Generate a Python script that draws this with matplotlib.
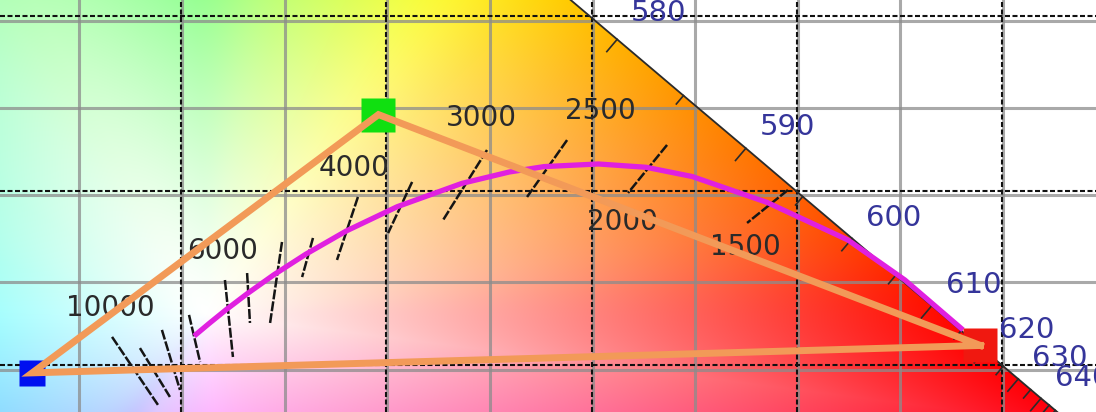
import numpy as np
import matplotlib
matplotlib.use('Agg')
import matplotlib.pyplot as plt
import matplotlib.transforms as mtransforms
from matplotlib.patches import Polygon

# CIE 1931 2° spectral locus: wavelength (nm), x, y
locus_nm = [380, 400, 420, 430, 440, 450, 460, 470, 475, 480, 485, 490, 495, 500,
            505, 510, 515, 520, 525, 530, 540, 550, 560, 565, 570, 575, 580, 585,
            590, 595, 600, 605, 610, 615, 620, 625, 630, 635, 640, 645, 650, 655,
            660, 670, 680, 700]
locus_x = [0.1741, 0.1733, 0.1714, 0.1689, 0.1644, 0.1566, 0.1440, 0.1241, 0.1096,
           0.0913, 0.0687, 0.0454, 0.0235, 0.0082, 0.0039, 0.0139, 0.0389, 0.0743,
           0.1142, 0.1547, 0.2296, 0.3016, 0.3731, 0.4087, 0.4441, 0.4788, 0.5125,
           0.5448, 0.5752, 0.6029, 0.6270, 0.6482, 0.6658, 0.6801, 0.6915, 0.7006,
           0.7079, 0.7140, 0.7190, 0.7230, 0.7260, 0.7283, 0.7300, 0.7327, 0.7334,
           0.7347]
locus_y = [0.0050, 0.0048, 0.0051, 0.0069, 0.0109, 0.0177, 0.0297, 0.0578, 0.0868,
           0.1327, 0.2007, 0.2950, 0.4127, 0.5384, 0.6548, 0.7502, 0.8120, 0.8338,
           0.8262, 0.8059, 0.7543, 0.6923, 0.6245, 0.5896, 0.5547, 0.5202, 0.4866,
           0.4544, 0.4242, 0.3965, 0.3725, 0.3514, 0.3340, 0.3197, 0.3083, 0.2993,
           0.2920, 0.2859, 0.2809, 0.2770, 0.2740, 0.2717, 0.2700, 0.2673, 0.2666,
           0.2653]

# Planckian locus (black body)
planck_T = [7000, 6500, 6000, 5500, 5000, 4500, 4000, 3500, 3000, 2700, 2500,
            2200, 2000, 1800, 1500, 1200, 1000, 850]
planck_x = [0.3064, 0.3135, 0.3221, 0.3324, 0.3451, 0.3608, 0.3805, 0.4053, 0.4369,
            0.4599, 0.4769, 0.5033, 0.5267, 0.5491, 0.5857, 0.6250, 0.6527, 0.6810]
planck_y = [0.3166, 0.3236, 0.3318, 0.3410, 0.3516, 0.3635, 0.3768, 0.3907, 0.4041,
            0.4106, 0.4137, 0.4152, 0.4133, 0.4080, 0.3931, 0.3716, 0.3487, 0.3201]

# isotemperature lines (upper / lower end)
iso_T = [10000, 9000, 8000, 7000, 6000, 5500, 5000, 4500, 4000, 3500, 3000, 2500, 2000, 1500]
iso_x_top = [0.2664, 0.2800, 0.2907, 0.3039, 0.3214, 0.3322, 0.3492, 0.3643, 0.3862,
             0.4126, 0.4491, 0.4881, 0.5368, 0.5957]
iso_y_top = [0.3161, 0.3097, 0.3201, 0.3287, 0.3487, 0.3527, 0.3705, 0.3728, 0.3963,
             0.4049, 0.4232, 0.4289, 0.4261, 0.4003]
iso_x_bot = [0.2888, 0.2946, 0.2995, 0.3093, 0.3253, 0.3336, 0.3434, 0.3590, 0.3760,
             0.4009, 0.4277, 0.4686, 0.5178, 0.5758]
iso_y_bot = [0.2771, 0.2817, 0.2857, 0.3017, 0.3046, 0.3241, 0.3241, 0.3504, 0.3602,
             0.3756, 0.3831, 0.3963, 0.3986, 0.3814]

# temperatures that carry a label: (end of the line, offset in points)
iso_labels = {10000: ('top', -1, 21), 6000: ('top', -2, 21), 4000: ('top', -3, 21),
              3000: ('top', -4, 23), 2500: ('top', 24, 21), 2000: ('bot', -4, -21),
              1500: ('bot', -1, -17)}

# gamut triangle primaries (R, G, B)
prim_x = [0.6895, 0.3962, 0.2275]
prim_y = [0.3112, 0.4435, 0.2955]
prim_colors = ['#f01810', '#10e010', '#0010f0']
prim_ms = [24, 24, 19]

wl_labels = [580, 590, 600, 610, 620, 630, 640]
white_x, white_y = 0.3127, 0.3290

x0, x1 = 0.21181, 0.74580
y0, y1 = 0.27307, 0.50917
W, H = 1096, 412

M = np.array([[3.2406, -1.5372, -0.4986],
              [-0.9689, 1.8758, 0.0415],
              [0.0557, -0.2040, 1.0570]])


def xy_to_rgb(x, y):
    X = x / y
    Z = (1 - x - y) / y
    rgb = np.stack([X, np.ones_like(X), Z], -1) @ M.T
    rgb = np.clip(rgb, 0, None)
    rgb /= rgb.max(axis=-1, keepdims=True)
    return rgb ** (1 / 2.2)


# closed horseshoe boundary, purple line sampled densely
lx = np.array(locus_x)
ly = np.array(locus_y)
t = np.linspace(0, 1, 60)[1:-1]
bx = np.concatenate([lx, lx[-1] + (lx[0] - lx[-1]) * t])
by = np.concatenate([ly, ly[-1] + (ly[0] - ly[-1]) * t])
b_ang = np.arctan2(by - white_y, bx - white_x)
b_rad = np.hypot(bx - white_x, by - white_y)
order = np.argsort(b_ang)
b_ang, b_rad = b_ang[order], b_rad[order]

# colour of the boundary as a function of hue angle, softened a little
n_ang = 2048
a_f = np.linspace(-np.pi, np.pi, n_ang, endpoint=False)
r_f = np.interp(a_f, b_ang, b_rad, period=2 * np.pi)
edge_f = xy_to_rgb(white_x + r_f * np.cos(a_f), white_y + r_f * np.sin(a_f))
k = np.arange(-60, 61)
kern = np.exp(-0.5 * (k / 20.0) ** 2)
kern /= kern.sum()
padded = np.concatenate([edge_f[-60:], edge_f, edge_f[:60]])
edge_f = np.stack([np.convolve(padded[:, c], kern, mode='valid') for c in range(3)], -1)

gx, gy = np.meshgrid(np.linspace(x0, x1, W), np.linspace(y0, y1, H))
ang = np.arctan2(gy - white_y, gx - white_x)
rad = np.hypot(gx - white_x, gy - white_y)
r_edge = np.interp(ang, b_ang, b_rad, period=2 * np.pi)
edge_rgb = np.stack([np.interp(ang, a_f, edge_f[:, c], period=2 * np.pi) for c in range(3)], -1)
# greens stay pale, pinks and purples a little stronger
gamma = 1.05 + 0.2 * np.sin(ang)
purity = (np.clip(rad / r_edge, 0, 1) ** gamma)[..., None]
img = 1 - purity * (1 - edge_rgb)

fig = plt.figure(figsize=(W / 100, H / 100), dpi=100)
ax = fig.add_axes([0, 0, 1, 1])
bg = ax.imshow(img, extent=[x0, x1, y0, y1], origin='lower', aspect='auto',
               interpolation='bilinear', zorder=0)
clip = Polygon(np.column_stack([bx, by]), closed=True, transform=ax.transData)
bg.set_clip_path(clip)
ax.set_xlim(x0, x1)
ax.set_ylim(y0, y1)

# fine grey grid every 0.05 (drawn a few pixels lower than the dashed grid)
shift = mtransforms.offset_copy(ax.transData, fig=fig, x=1, y=-4.5, units='dots')
for v in np.arange(0.25, 0.75, 0.05):
    ax.plot([v, v], [y0 - 0.05, y1 + 0.05], color='#8c8c8c', lw=2.2, alpha=0.75,
            transform=shift, zorder=0.3)
for v in np.arange(0.30, 0.55, 0.05):
    ax.plot([x0 - 0.05, x1 + 0.05], [v, v], color='#8c8c8c', lw=2.2, alpha=0.75,
            transform=shift, zorder=0.3)

# dashed major grid every 0.1
ax.set_xticks(np.arange(0.3, 0.75, 0.1))
ax.set_yticks(np.arange(0.3, 0.55, 0.1))
ax.set_axisbelow(True)
ax.grid(True, color='#111111', lw=1.5, ls=(0, (2.4, 1.2)))
ax.tick_params(left=False, bottom=False, labelleft=False, labelbottom=False)
for s in ax.spines.values():
    s.set_visible(False)

# spectral locus with wavelength ticks
ax.plot(locus_x, locus_y, color='#2b2b2b', lw=1.3, zorder=2)
pts = ax.transData.transform(np.column_stack([locus_x, locus_y]))
inv = ax.transData.inverted()
for i, nm in enumerate(locus_nm):
    if nm < 575 or i == len(locus_nm) - 1:
        continue
    tx, ty = pts[i + 1] - pts[i - 1]
    n = np.array([ty, -tx]) / np.hypot(tx, ty)
    length = 16 if nm % 10 == 0 else 11
    seg = inv.transform([pts[i], pts[i] + n * length])
    ax.plot(seg[:, 0], seg[:, 1], color='#2b2b2b', lw=1.2, zorder=2)
    if nm in wl_labels:
        dy = 19 if nm == 580 else 15
        ax.annotate(str(nm), (locus_x[i], locus_y[i]), xytext=(30, dy),
                    textcoords='offset points', ha='center', va='center',
                    fontsize=21, color='#35359a', family='DejaVu Sans', zorder=3)

# isotemperature lines and their labels
for i, T in enumerate(iso_T):
    ax.plot([iso_x_top[i], iso_x_bot[i]], [iso_y_top[i], iso_y_bot[i]],
            color='#151515', lw=1.8, ls=(0, (4, 0.8)), zorder=2.5)
    if T in iso_labels:
        end, dx, dy = iso_labels[T]
        xy = (iso_x_top[i], iso_y_top[i]) if end == 'top' else (iso_x_bot[i], iso_y_bot[i])
        ax.annotate(str(T), xy, xytext=(dx, dy), textcoords='offset points',
                    ha='center', va='center', fontsize=20, color='#2a2a2a',
                    family='DejaVu Sans', zorder=3)

# black body curve
ax.plot(planck_x, planck_y, color='#e020e0', lw=3.8, solid_capstyle='butt', zorder=4)

# primaries and gamut triangle
for px, py, c, ms in zip(prim_x, prim_y, prim_colors, prim_ms):
    ax.plot(px, py, marker='s', ms=ms, color=c, mec='none', zorder=5)
ax.plot(prim_x + prim_x[:1], prim_y + prim_y[:1], color='#f29a58', lw=5,
        solid_joinstyle='miter', zorder=6)

fig.savefig('out.png', dpi=100)
